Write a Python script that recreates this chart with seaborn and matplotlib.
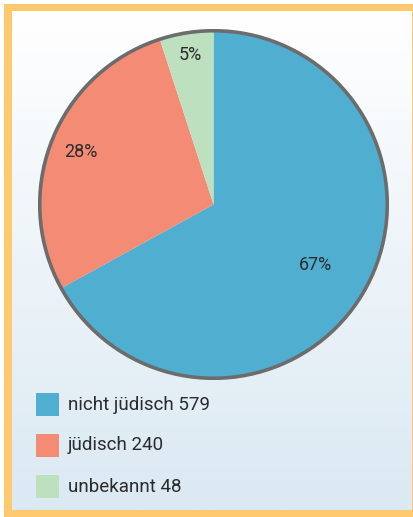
import numpy as np
import matplotlib
matplotlib.use("Agg")
import matplotlib.pyplot as plt
import seaborn as sns
from matplotlib.patches import Rectangle, Circle

# data
categories = ["nicht jüdisch", "jüdisch", "unbekannt"]
counts = [579, 240, 48]
percents = [67, 28, 5]
label_radius = [0.68, 0.82, 0.87]

colors = ["#50aed1", "#f48b74", "#bde0be"]

sns.set_theme(style="white")
plt.rcParams['font.family'] = ['Roboto', 'DejaVu Sans']

W, H = 414, 517
fig = plt.figure(figsize=(W / 100, H / 100), dpi=100)
fig.patch.set_facecolor("white")

# background / frame in pixel coords
bg = fig.add_axes([0, 0, 1, 1])
bg.add_patch(Rectangle((4, 4), W, H, facecolor="#fec96f", edgecolor="none"))
grad = np.linspace(0, 1, 256)[:, None]
top = np.array([1.0, 1.0, 1.0])
bot = np.array([0xdb, 0xe9, 0xf3]) / 255
img = top[None, None, :] * (1 - grad[..., None]) + bot[None, None, :] * grad[..., None]
bg.imshow(img, extent=(12, 412, 510, 11), aspect="auto", zorder=1)
bg.set_xlim(0, W)
bg.set_ylim(H, 0)
bg.axis("off")

# pie (wedges from the printed percentages)
cx, cy, r = 213.5, 204.5, 175.5
ax = fig.add_axes([(cx - r) / W, (H - cy - r) / H, 2 * r / W, 2 * r / H])
wedges, _ = ax.pie(percents, colors=colors, startangle=90, counterclock=False,
                   radius=1, wedgeprops=dict(linewidth=0))
ax.add_patch(Circle((0, 0), 1, fill=False, lw=2.6, ec="#6c6c6c"))
ax.set_xlim(-1.01, 1.01)
ax.set_ylim(-1.01, 1.01)
ax.axis("off")

total = sum(percents)
start = 90
for p, rd in zip(percents, label_radius):
    span = p / total * 360
    mid = np.deg2rad(start - span / 2)
    ax.text(rd * np.cos(mid), rd * np.sin(mid), f"{p}%", ha="center", va="center",
            fontsize=13, color="#2b2b2b")
    start -= span

# legend
for i, (cat, n, c) in enumerate(zip(categories, counts, colors)):
    y = 393 + i * 41
    bg.add_patch(Rectangle((36, y), 23, 23, facecolor=c, edgecolor="none", zorder=3))
    bg.text(68, y + 11.5, f"{cat} {n}", ha="left", va="center",
            fontsize=13.5, color="#2b2b2b", zorder=3)

fig.savefig("out.png", dpi=100)
